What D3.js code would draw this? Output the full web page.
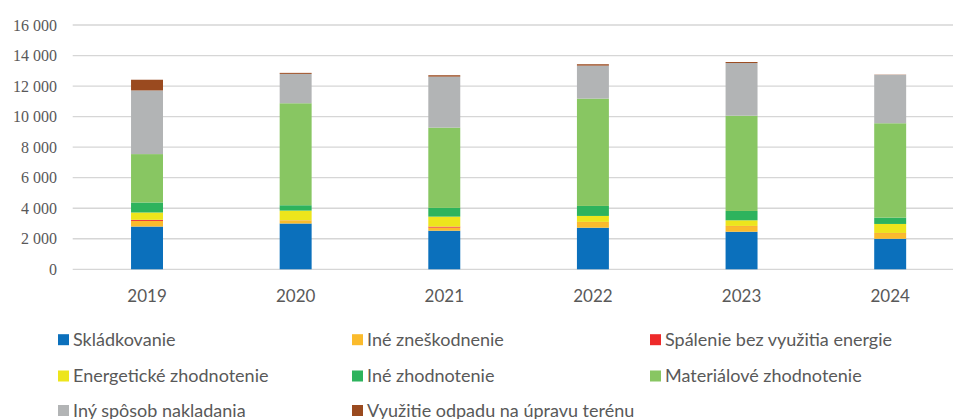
<!DOCTYPE html>
<html><head><meta charset="utf-8">
<script src="https://cdn.jsdelivr.net/npm/d3@7"></script>
<style>body{margin:0;background:#fff}svg{display:block}
.ylab{font-family:"Liberation Serif","Times New Roman",Times,"DejaVu Serif",serif;}
</style>
</head><body>
<script>
const years = ["2019","2020","2021","2022","2023","2024"];
const seriesNames = ["Skládkovanie","Iné zneškodnenie","Spálenie bez využitia energie","Energetické zhodnotenie","Iné zhodnotenie","Materiálové zhodnotenie","Iný spôsob nakladania","Využitie odpadu na úpravu terénu"];
const skladkovanie   = [2800, 3000, 2530, 2725, 2460, 2000];
const ineZneskodnenie= [370, 200, 200, 370, 370, 370];
const spalenie       = [70, 10, 65, 10, 10, 10];
const energeticke    = [480, 635, 655, 390, 370, 590];
const ineZhodnotenie = [655, 350, 570, 655, 610, 415];
const materialove    = [3170, 6680, 5260, 7030, 6240, 6180];
const inySposob      = [4170, 1925, 3340, 2160, 3450, 3170];
const vyuzitie       = [700, 65, 90, 90, 65, 15];
const yTicks = [0,2000,4000,6000,8000,10000,12000,14000,16000];
const colors = ["#0b70bc","#fbbb2c","#ee2a2a","#ede51c","#2db35d","#88c662","#b2b4b5","#9a4a1f"];

const W=953,H=419;
const svg=d3.select("body").append("svg").attr("width",W).attr("height",H);
const allSeries=[skladkovanie,ineZneskodnenie,spalenie,energeticke,ineZhodnotenie,materialove,inySposob,vyuzitie];
const table=years.map((yr,i)=>{const o={year:yr};seriesNames.forEach((n,k)=>o[n]=allSeries[k][i]);return o;});
const stack=d3.stack().keys(seriesNames)(table);

const x=d3.scaleBand().domain(years).range([72.7,964.5]).paddingInner(0.785).paddingOuter(0.3925);
const y=d3.scaleLinear().domain([0,16000]).range([269.3,25]);

// gridlines
svg.append("g").selectAll("line").data(yTicks).join("line")
  .attr("x1",72.7).attr("x2",W).attr("y1",d=>y(d)).attr("y2",d=>y(d))
  .attr("stroke","#d6d6d6").attr("stroke-width",1.3);

// y axis labels
const fmt=d=>d3.format(",")(d).replace(/,/g," ");
const yAxis=d3.axisLeft(y).tickValues(yTicks).tickFormat(fmt).tickSize(0).tickPadding(0);
const gy=svg.append("g").attr("transform","translate(57,0)").call(yAxis)
  .attr("font-family",null).attr("font-size",null);
gy.select(".domain").remove();
gy.selectAll("text").attr("class","ylab").style("font-size","16px").attr("fill","#595959");
// fit the widest label to the reference width (~45px)
const widest=gy.selectAll("text").filter(d=>d===16000).node();
if(widest){const w=widest.getComputedTextLength(); if(w>47){gy.selectAll("text").style("font-size",(16*45/w).toFixed(2)+"px");}}

// bars
svg.append("g").selectAll("g").data(stack).join("g").attr("fill",(d,i)=>colors[i])
  .selectAll("rect").data(d=>d).join("rect")
  .attr("x",d=>x(d.data.year)).attr("width",x.bandwidth())
  .attr("y",d=>y(d[1])).attr("height",d=>Math.max(0,y(d[0])-y(d[1])));

// x axis labels
const xAxis=d3.axisBottom(x).tickSize(0).tickPadding(0);
const gx=svg.append("g").attr("transform","translate(0,290)").call(xAxis)
  .attr("font-family",null).attr("font-size",null);
gx.select(".domain").remove();
gx.selectAll("text").style("font-family","Lato, 'Open Sans', sans-serif").style("font-size","17px").attr("fill","#595959").attr("dy","0.72em");

// legend
const colX=[58,352,650], rowY=[339.7,376,410.5];
const lg=svg.append("g").selectAll("g").data(seriesNames).join("g")
  .attr("transform",(d,i)=>`translate(${colX[i%3]},${rowY[Math.floor(i/3)]})`);
lg.append("rect").attr("x",0).attr("y",-5.5).attr("width",11).attr("height",11).attr("fill",(d,i)=>colors[i]);
lg.append("text").attr("x",15).attr("dy","0.36em").text(d=>d)
  .style("font-family","Lato, 'Open Sans', sans-serif").style("font-size","18px").attr("fill","#595959");
</script>
</body></html>
